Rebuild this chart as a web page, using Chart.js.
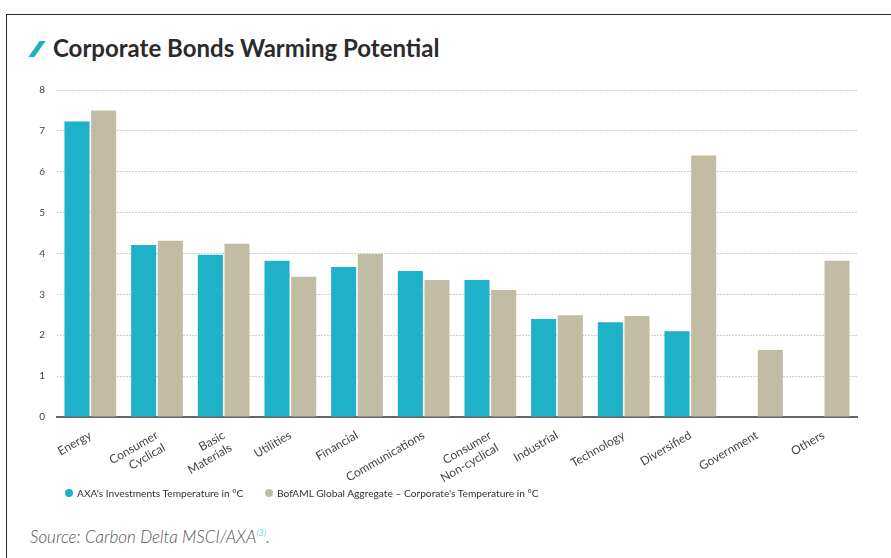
<!DOCTYPE html>
<html>
<head>
<meta charset="utf-8">
<script src="https://cdn.jsdelivr.net/npm/chart.js@4.4.1/dist/chart.umd.min.js"></script>
<style>
  html, body { margin:0; padding:0; background:#fff; }
  body { width:891px; height:558px; position:relative; overflow:hidden; font-family: Lato, "Noto Sans", sans-serif; }
  #frame { position:absolute; left:6px; top:14px; width:900px; height:600px; border-left:1.5px solid #2a2a2a; border-top:1.5px solid #2a2a2a; }
  #slash { position:absolute; left:34px; top:41px; width:6px; height:16px; background:#1fb1c8; transform:skewX(-35deg); }
  #title { position:absolute; left:53px; top:33px; font-size:24px; font-weight:700; color:#2b2b2b; white-space:nowrap; }
  #chartWrap { position:absolute; left:0; top:72px; width:891px; height:418px; }
  #chartWrap canvas { display:block; }
  #legend { position:absolute; top:487px; left:65px; font-size:10.2px; color:#333; white-space:nowrap; }
  .li { position:absolute; top:0; white-space:nowrap; }
  .dot { display:inline-block; width:8px; height:8px; border-radius:50%; vertical-align:-0px; margin-right:4px; }
  #source { position:absolute; left:30px; top:526px; font-size:17px; font-style:italic; font-weight:300; color:#555; white-space:nowrap; }
  #source sup { color:#1fb1c8; font-size:9px; }
</style>
</head>
<body>
<div id="frame"></div>
<div id="slash"></div>
<div id="title">Corporate Bonds Warming Potential</div>
<div id="chartWrap"><canvas id="c" width="891" height="418"></canvas></div>
<div id="legend">
  <span class="li" style="left:0px"><span class="dot" style="background:#1fb1c8"></span>AXA's Investments Temperature in °C</span>
  <span class="li" style="left:200px"><span class="dot" style="background:#c2bca4"></span>BofAML Global Aggregate – Corporate's Temperature in °C</span>
</div>
<div id="source">Source: Carbon Delta MSCI/AXA<sup>(3)</sup>.</div>
<script>
const categories = [
  "Energy",
  ["Consumer", "Cyclical"],
  ["Basic", "Materials"],
  "Utilities",
  "Financial",
  "Communications",
  ["Consumer", "Non-cyclical"],
  "Industrial",
  "Technology",
  "Diversified",
  "Government",
  "Others"
];
const axaValues = [7.23, 4.21, 3.97, 3.82, 3.67, 3.57, 3.35, 2.40, 2.32, 2.10, null, null];
const bofamlValues = [7.50, 4.31, 4.24, 3.43, 3.99, 3.35, 3.11, 2.49, 2.47, 6.40, 1.64, 3.82];
const seriesNames = ["AXA's Investments Temperature in °C", "BofAML Global Aggregate – Corporate's Temperature in °C"];
const yTicks = [0, 1, 2, 3, 4, 5, 6, 7, 8];

const fontFam = 'Lato, "Noto Sans", sans-serif';

new Chart(document.getElementById('c'), {
  type: 'bar',
  data: {
    labels: categories,
    datasets: [
      { label: seriesNames[0], data: axaValues, backgroundColor: '#1fb1c8', categoryPercentage: 0.8, barPercentage: 0.94 },
      { label: seriesNames[1], data: bofamlValues, backgroundColor: '#c2bca4', categoryPercentage: 0.8, barPercentage: 0.94 }
    ]
  },
  options: {
    responsive: false,
    animation: false,
    layout: { padding: { top: 2, right: 34, left: 0, bottom: 0 } },
    plugins: { legend: { display: false }, tooltip: { enabled: false } },
    scales: {
      x: {
        grid: { display: false },
        border: { display: true, color: '#666', width: 2 },
        ticks: {
          autoSkip: false,
          maxRotation: 30, minRotation: 30,
          padding: 3,
          color: '#444',
          font: { family: fontFam, size: 12 }
        },
        afterFit: s => { s.height = 73; }
      },
      y: {
        min: 0, max: 8,
        afterBuildTicks: s => { s.ticks = yTicks.map(v => ({ value: v })); },
        grid: {
          drawTicks: false,
          color: ctx => (ctx.tick && ctx.tick.value === 0) ? 'rgba(0,0,0,0)' : '#cfcfcf',
          lineWidth: 1
        },
        border: { display: false, dash: [2, 1] },
        ticks: {
          padding: 12,
          color: '#444',
          font: { family: fontFam, size: 10 }
        },
        afterFit: s => { s.width = 57; }
      }
    }
  }
});
</script>
</body>
</html>
